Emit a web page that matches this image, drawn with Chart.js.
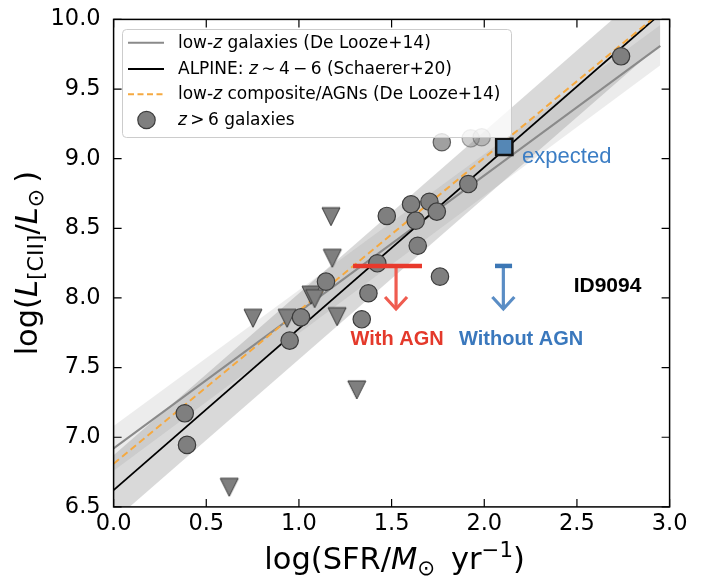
<!DOCTYPE html>
<html><head><meta charset="utf-8">
<script src="https://cdn.jsdelivr.net/npm/chart.js@4.4.1/dist/chart.umd.min.js"></script>
<style>html,body{margin:0;padding:0;background:#fff;}#wrap{width:707px;height:576px;}</style>
</head><body><div id="wrap"><canvas id="c" width="707" height="576"></canvas></div>
<script>
// ---- tick labels ----
const xTicks = [0.0, 0.5, 1.0, 1.5, 2.0, 2.5, 3.0];
const yTicks = [6.5, 7.0, 7.5, 8.0, 8.5, 9.0, 9.5, 10.0];

// ---- z>6 galaxies (detections) ----
const galX = [2.738, 1.914, 1.605, 1.704, 1.474, 1.744, 1.630, 1.641, 1.761, 1.423, 1.375, 1.339, 1.146, 1.011, 0.950, 0.384, 0.396];
const galY = [9.735, 8.818, 8.673, 8.691, 8.589, 8.620, 8.555, 8.375, 8.153, 8.249, 8.034, 7.847, 8.117, 7.861, 7.694, 7.172, 6.945];
// faded detections near the legend
const fadedX = [1.771, 1.927, 1.986];
const fadedY = [9.118, 9.146, 9.154];
// upper limits
const limX = [1.173, 1.180, 1.065, 1.085, 0.752, 0.936, 1.206, 1.312, 0.624];
const limY = [8.584, 8.285, 8.020, 7.995, 7.854, 7.854, 7.866, 7.340, 6.641];
// expected value for ID9094
const expX = [2.108];
const expY = [9.084];

// ---- relations (evaluated at lineX) ----
const lineX = [0.0, 2.95];
const alpineY = [6.62, 10.04];
const deLoozeY = [6.92, 9.81];
const compositeY = [6.81, 10.05];
// ---- scatter bands ----
const alpineUp = [6.87, 10.30];
const alpineLo = [6.40, 9.82];
const deLoozeUp = [7.08, 9.96];
const deLoozeLo = [6.76, 9.67];

// ---- ID9094 upper limits: [x, y, xmin, xmax, arrow tip y] ----
const withAGN = [1.524, 8.230, 1.292, 1.664, 7.921];
const withoutAGN = [2.103, 8.230, 2.058, 2.150, 7.921];

const pts = (xs, ys) => xs.map((x, i) => ({x: x, y: ys[i]}));

const FAM = "'DejaVu Sans', sans-serif";

// downward triangle marker, bbox centred
const triImg = (() => {
  const c = document.createElement('canvas'); c.width = 22; c.height = 22;
  const g = c.getContext('2d');
  g.beginPath(); g.moveTo(2, 2); g.lineTo(20, 2); g.lineTo(11, 20); g.closePath();
  g.fillStyle = '#7f7f7f'; g.fill();
  g.strokeStyle = '#3a3a3a'; g.lineWidth = 1; g.stroke();
  return c;
})();

function drawRich(ctx, parts, x, y, size, align) {
  let w = 0;
  const fontOf = p => (p.it ? 'italic ' : '') + (size * (p.sc || 1)) + 'px ' + FAM;
  parts.forEach(p => { ctx.font = fontOf(p); w += ctx.measureText(p.t).width; });
  let cx = align === 'center' ? x - w / 2 : x;
  ctx.textBaseline = 'alphabetic';
  ctx.textAlign = 'left';
  parts.forEach(p => {
    ctx.font = fontOf(p);
    ctx.fillText(p.t, cx, y + (p.dy || 0) * size);
    cx += ctx.measureText(p.t).width;
  });
  return w;
}

const decor = {
  id: 'decor',
  afterDatasetsDraw(chart) {
    const ctx = chart.ctx, xs = chart.scales.x, ys = chart.scales.y;
    const X = v => xs.getPixelForValue(v), Y = v => ys.getPixelForValue(v);
    ctx.save();
    function lim(a, capCol, stemCol) {
      const x = X(a[0]), y = Y(a[1]), tip = Y(a[4]);
      ctx.lineCap = 'butt';
      ctx.strokeStyle = stemCol; ctx.lineWidth = 3.2;
      ctx.beginPath(); ctx.moveTo(x, y); ctx.lineTo(x, tip - 1); ctx.stroke();
      ctx.beginPath(); ctx.moveTo(x - 11, tip - 12); ctx.lineTo(x, tip); ctx.lineTo(x + 11, tip - 12); ctx.stroke();
      ctx.strokeStyle = capCol; ctx.lineWidth = 4.5;
      ctx.beginPath(); ctx.moveTo(X(a[2]), y); ctx.lineTo(X(a[3]), y); ctx.stroke();
    }
    lim(withAGN, '#e8392c', '#ef5c50');
    lim(withoutAGN, '#3c77b5', '#5a8dc5');

    ctx.textBaseline = 'alphabetic';
    ctx.fillStyle = '#3b7dc4';
    ctx.font = "22px 'Liberation Sans', Arial, sans-serif";
    ctx.textAlign = 'left';
    ctx.fillText('expected', X(2.204), Y(8.969));
    ctx.font = "bold 20px 'Liberation Sans', Arial, sans-serif";
    ctx.textAlign = 'center';
    ctx.fillStyle = '#e4392b';
    ctx.fillText('With AGN', X(1.530), Y(7.663));
    ctx.fillStyle = '#3a78bd';
    ctx.fillText('Without AGN', X(2.199), Y(7.663));
    ctx.fillStyle = '#000';
    ctx.font = "bold 21px 'Liberation Sans', Arial, sans-serif";
    ctx.fillText('ID9094', X(2.665), Y(8.043));

    // legend
    const bx = 122.5, by = 29.5, bw = 389, bh = 108, r = 4;
    ctx.beginPath();
    ctx.moveTo(bx + r, by); ctx.lineTo(bx + bw - r, by); ctx.quadraticCurveTo(bx + bw, by, bx + bw, by + r);
    ctx.lineTo(bx + bw, by + bh - r); ctx.quadraticCurveTo(bx + bw, by + bh, bx + bw - r, by + bh);
    ctx.lineTo(bx + r, by + bh); ctx.quadraticCurveTo(bx, by + bh, bx, by + bh - r);
    ctx.lineTo(bx, by + r); ctx.quadraticCurveTo(bx, by, bx + r, by); ctx.closePath();
    ctx.fillStyle = 'rgba(255,255,255,0.8)'; ctx.fill();
    ctx.strokeStyle = '#cccccc'; ctx.lineWidth = 1; ctx.stroke();

    const lx0 = 128, lx1 = 164, tx = 178;
    const rows = [42.7, 69.0, 94.3, 120];
    ctx.lineWidth = 2;
    ctx.strokeStyle = '#8a8a8a';
    ctx.beginPath(); ctx.moveTo(lx0, rows[0]); ctx.lineTo(lx1, rows[0]); ctx.stroke();
    ctx.strokeStyle = '#000'; ctx.lineWidth = 1.8;
    ctx.beginPath(); ctx.moveTo(lx0, rows[1]); ctx.lineTo(lx1, rows[1]); ctx.stroke();
    ctx.strokeStyle = '#f5a940'; ctx.lineWidth = 2; ctx.setLineDash([6, 3.5]);
    ctx.beginPath(); ctx.moveTo(lx0, rows[2]); ctx.lineTo(lx1, rows[2]); ctx.stroke();
    ctx.setLineDash([]);
    ctx.beginPath(); ctx.arc(146.5, rows[3], 8.7, 0, Math.PI * 2);
    ctx.fillStyle = '#7f7f7f'; ctx.fill(); ctx.strokeStyle = '#3c3c3c'; ctx.lineWidth = 1.2; ctx.stroke();

    ctx.fillStyle = '#000';
    const fs = 17, off = 4.8;
    drawRich(ctx, [{t: 'low-'}, {t: 'z', it: true}, {t: ' galaxies (De Looze+14)'}], tx, rows[0] + off, fs);
    drawRich(ctx, [{t: 'ALPINE: '}, {t: 'z', it: true}, {t: '\u2009\u223C\u20094\u2009\u2212\u20096 (Schaerer+20)'}], tx, rows[1] + off, fs);
    drawRich(ctx, [{t: 'low-'}, {t: 'z', it: true}, {t: ' composite/AGNs (De Looze+14)'}], tx, rows[2] + off, fs);
    drawRich(ctx, [{t: 'z', it: true}, {t: '\u2009>\u20096 galaxies'}], tx, rows[3] + off, fs);
    ctx.restore();
  },
  afterDraw(chart) {
    const ctx = chart.ctx, a = chart.chartArea, xs = chart.scales.x, ys = chart.scales.y;
    ctx.save();
    ctx.strokeStyle = '#000'; ctx.lineWidth = 1.2;
    const tl = 8;
    xTicks.forEach(v => {
      const p = xs.getPixelForValue(v);
      ctx.beginPath(); ctx.moveTo(p, a.bottom); ctx.lineTo(p, a.bottom - tl);
      ctx.moveTo(p, a.top); ctx.lineTo(p, a.top + tl); ctx.stroke();
    });
    yTicks.forEach(v => {
      const p = ys.getPixelForValue(v);
      ctx.beginPath(); ctx.moveTo(a.left, p); ctx.lineTo(a.left + tl, p);
      ctx.moveTo(a.right, p); ctx.lineTo(a.right - tl, p); ctx.stroke();
    });
    ctx.lineWidth = 1.5;
    ctx.strokeRect(a.left, a.top, a.right - a.left, a.bottom - a.top);

    // axis titles
    ctx.fillStyle = '#000';
    drawRich(ctx, [{t: 'log(SFR/'}, {t: 'M', it: true}, {t: '\u2299', sc: 0.7, dy: 0.2}, {t: '\u2009 yr'}, {t: '\u22121', sc: 0.7, dy: -0.4}, {t: ')'}],
      (a.left + a.right) / 2 + 3, 569, 30.5, 'center');
    ctx.translate(37, (a.top + a.bottom) / 2);
    ctx.rotate(-Math.PI / 2);
    drawRich(ctx, [{t: 'log('}, {t: 'L', it: true}, {t: '[CII]', sc: 0.72, dy: 0.2}, {t: '/'}, {t: 'L', it: true}, {t: '\u2299', sc: 0.72, dy: 0.2}, {t: '\u2009)'}],
      0, 0, 30.5, 'center');
    ctx.restore();
  }
};

const lineDs = (ys, o) => Object.assign({type: 'line', data: pts(lineX, ys), pointRadius: 0, borderColor: 'rgba(0,0,0,0)', borderWidth: 0, fill: false, tension: 0}, o);

new Chart(document.getElementById('c'), {
  type: 'scatter',
  data: {
    datasets: [
      lineDs(alpineUp, {fill: '+1', backgroundColor: 'rgba(128,128,128,0.30)', order: 20}),
      lineDs(alpineLo, {order: 19}),
      lineDs(deLoozeUp, {fill: '+1', backgroundColor: 'rgba(128,128,128,0.15)', order: 18}),
      lineDs(deLoozeLo, {order: 17}),
      lineDs(deLoozeY, {borderColor: '#8a8a8a', borderWidth: 2, order: 10}),
      lineDs(alpineY, {borderColor: '#000000', borderWidth: 1.8, order: 9}),
      lineDs(compositeY, {borderColor: '#f5a940', borderWidth: 2, borderDash: [7, 4], order: 8}),
      {type: 'scatter', data: pts(galX, galY), pointRadius: 8.7, pointBackgroundColor: '#7f7f7f', pointBorderColor: '#3c3c3c', pointBorderWidth: 1.2, order: 3},
      {type: 'scatter', data: pts(fadedX, fadedY), pointRadius: 8.7,
        pointBackgroundColor: ['rgba(128,128,128,0.75)', 'rgba(128,128,128,0.4)', 'rgba(128,128,128,0.4)'],
        pointBorderColor: ['rgba(60,60,60,0.75)', 'rgba(60,60,60,0.4)', 'rgba(60,60,60,0.4)'], pointBorderWidth: 1.2, order: 4},
      {type: 'scatter', data: pts(limX, limY), pointStyle: triImg, pointRadius: 9, order: 3},
      {type: 'scatter', data: pts(expX, expY), pointStyle: 'rect', pointRadius: 11.5, pointBackgroundColor: '#5587b5', pointBorderColor: '#111111', pointBorderWidth: 2.5, order: 1}
    ]
  },
  options: {
    responsive: false, animation: false, devicePixelRatio: 1,
    layout: {padding: {left: 0, right: 37.4, top: 19.4, bottom: 0}},
    plugins: {legend: {display: false}, tooltip: {enabled: false}},
    scales: {
      x: {type: 'linear', min: 0, max: 3,
        afterBuildTicks: s => { s.ticks = xTicks.map(v => ({value: v})); },
        ticks: {font: {family: FAM, size: 22.5}, color: '#000', padding: 4, maxRotation: 0, autoSkip: false, callback: v => Number(v).toFixed(1)},
        grid: {display: false, drawTicks: false}, border: {display: false},
        afterFit: s => { s.height = 69.1; s.paddingLeft = 0; s.paddingRight = 0; }},
      y: {type: 'linear', min: 6.5, max: 10,
        afterBuildTicks: s => { s.ticks = yTicks.map(v => ({value: v})); },
        ticks: {font: {family: FAM, size: 22.5}, color: '#000', padding: 13, autoSkip: false, callback: v => Number(v).toFixed(1)},
        grid: {display: false, drawTicks: false}, border: {display: false},
        afterFit: s => { s.width = 113.6; s.paddingTop = 0; s.paddingBottom = 0; }}
    }
  },
  plugins: [decor]
});
</script></body></html>
